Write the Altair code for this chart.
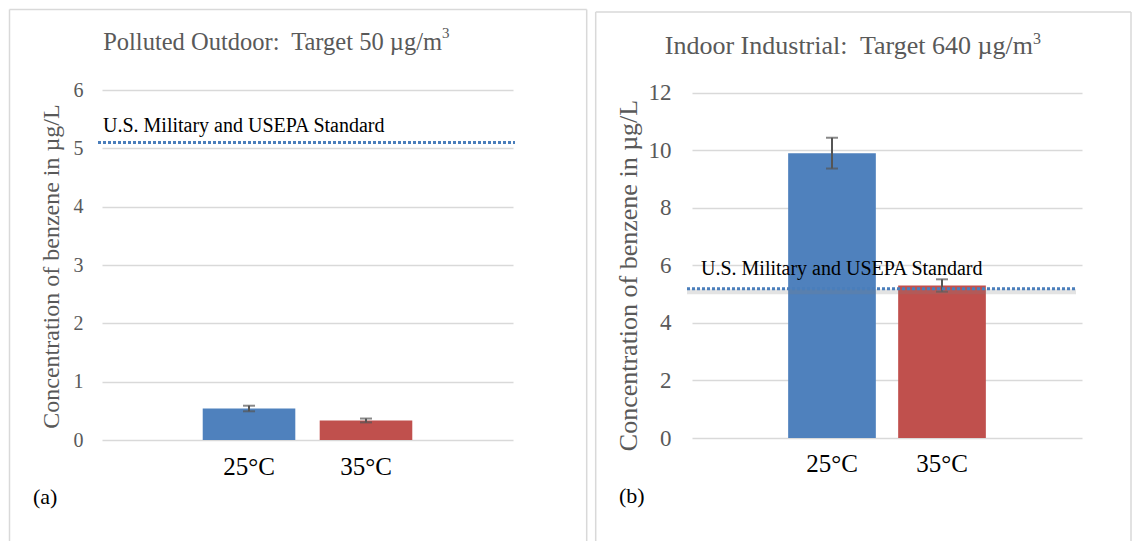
import altair as alt
import pandas as pd

# ---- data ----
categories = ["25°C", "35°C"]
a_means = [0.54, 0.335]
a_errs = [0.048, 0.033]
b_means = [9.9, 5.3]
b_errs = [0.535, 0.215]
a_standard = 5.10
b_standard = 5.19
a_ticks = [0, 1, 2, 3, 4, 5, 6]
b_ticks = [0, 2, 4, 6, 8, 10, 12]
bar_colors = ["#4F81BD", "#C0504D"]
standard_label = "U.S. Military and USEPA Standard"
y_title = "Concentration of benzene in µg/L"
a_title = "Polluted Outdoor:\u00a0 Target 50 µg/m"
b_title = "Indoor Industrial:\u00a0 Target 640 µg/m"
superscript = "3"

FONT = "Liberation Serif"
GRAY = "#595959"
GRID = "#D9D9D9"
LINE_BLUE = "#4A7EBB"


def panel(means, errs, standard, ticks, domain, width, height, p_in, p_out,
          xlab_size, xlab_pad, ylab_size, ylab_pad, ytitle_size, ytitle_x, ytitle_y,
          title, title_x, title_y, title_size, sup_y, tag, tag_x, tag_y,
          std_x1, std_x2, std_text_x, std_dy, std_size, shadow,
          border_left, border_top, border_right, border_bottom):
    df = pd.DataFrame({
        "cat": categories,
        "val": means,
        "lo": [m - e for m, e in zip(means, errs)],
        "hi": [m + e for m, e in zip(means, errs)],
    })
    one = pd.DataFrame({"k": [0]})

    x_axis = alt.Axis(title=None, labelAngle=0, labelFont=FONT, labelFontSize=xlab_size,
                      labelColor="black", labelPadding=xlab_pad, domain=False, ticks=False,
                      grid=False)
    x_enc = alt.X("cat:N", sort=categories,
                  scale=alt.Scale(domain=categories, paddingInner=p_in, paddingOuter=p_out),
                  axis=x_axis)
    y_axis = alt.Axis(values=ticks, format="d", grid=True, gridColor=GRID, gridWidth=1.5,
                      domain=False, ticks=False, labelFont=FONT, labelFontSize=ylab_size,
                      labelColor=GRAY, labelPadding=ylab_pad, title=y_title,
                      titleFont=FONT, titleFontSize=ytitle_size, titleColor=GRAY,
                      titleFontWeight="normal", titleX=ytitle_x, titleY=ytitle_y,
                      titleBaseline="middle", titleAngle=270)
    y_scale = alt.Scale(domain=domain, nice=False, zero=False)

    base = alt.Chart(df)
    bars = base.mark_bar().encode(
        x=x_enc,
        y=alt.Y("val:Q", scale=y_scale, axis=y_axis),
        y2=alt.datum(0),
        color=alt.Color("cat:N", scale=alt.Scale(domain=categories, range=bar_colors),
                        legend=None),
    )
    stems = base.mark_rule(color="#555555", strokeWidth=2).encode(
        x=x_enc, y=alt.Y("lo:Q", scale=y_scale, axis=y_axis), y2="hi:Q")
    cap_lo = base.mark_tick(color="#555555", size=12, thickness=2).encode(
        x=x_enc, y=alt.Y("lo:Q", scale=y_scale, axis=y_axis))
    cap_hi = base.mark_tick(color="#555555", size=12, thickness=2).encode(
        x=x_enc, y=alt.Y("hi:Q", scale=y_scale, axis=y_axis))

    dec = alt.Chart(one)
    layers = [bars, stems, cap_lo, cap_hi]
    if shadow:
        layers.append(dec.mark_rule(color="#7F7F7F", opacity=0.22, strokeWidth=5, yOffset=3).encode(
            y=alt.datum(standard), x=alt.value(std_x1), x2=alt.value(std_x2)))
    std_line = dec.mark_rule(color=LINE_BLUE, strokeWidth=3, strokeDash=[3, 2]).encode(
        y=alt.datum(standard), x=alt.value(std_x1), x2=alt.value(std_x2))
    std_text = dec.mark_text(align="left", baseline="alphabetic", dy=std_dy, font=FONT,
                             fontSize=std_size, color="black").encode(
        y=alt.datum(standard), x=alt.value(std_text_x), text=alt.value(standard_label))
    title_mark = dec.mark_text(align="right", baseline="alphabetic", font=FONT,
                               fontSize=title_size, color=GRAY).encode(
        x=alt.value(title_x), y=alt.value(title_y), text=alt.value(title))
    sup_mark = dec.mark_text(align="left", baseline="alphabetic", font=FONT,
                             fontSize=round(title_size * 0.62), color=GRAY).encode(
        x=alt.value(title_x), y=alt.value(sup_y), text=alt.value(superscript))
    tag_mark = dec.mark_text(align="left", baseline="alphabetic", font=FONT,
                             fontSize=22, color="black").encode(
        x=alt.value(tag_x), y=alt.value(tag_y), text=alt.value(tag))
    bl = dec.mark_rule(color=GRID, strokeWidth=1.5).encode(
        x=alt.value(border_left), y=alt.value(border_top), y2=alt.value(border_bottom))
    bt = dec.mark_rule(color=GRID, strokeWidth=1.5).encode(
        x=alt.value(border_left), x2=alt.value(border_right), y=alt.value(border_top))
    layers += [std_line, std_text, title_mark, sup_mark, tag_mark, bl, bt]
    if border_right < width + 100:
        layers.append(dec.mark_rule(color=GRID, strokeWidth=1.5).encode(
            x=alt.value(border_right), y=alt.value(border_top), y2=alt.value(border_bottom)))
    return alt.layer(*layers).properties(width=width, height=height)


panel_a = panel(a_means, a_errs, a_standard, a_ticks, [0, 6], 411, 350, 0.2085, 0.861,
                25, 14, 20, 19, 24, -51, 176,
                a_title, 340, -40, 24.5, -52, "(a)", -69, 414,
                -4, 413, 1, -11, 20, False,
                -92.5, -80.5, 484.7, 451)

panel_b = panel(b_means, b_errs, b_standard, b_ticks, [-0.0695, 12.094], 390, 350, 0.203, 0.874,
                25, 11, 23, 21, 26, -64, 185,
                b_title, 341, -36, 26, -46, "(b)", -73, 413,
                -5, 384, 9, -14, 20, True,
                -96.3, -78, 439, 451)

chart = alt.hconcat(panel_a, panel_b, spacing=179, bounds="flush").properties(
    padding=0, background="white"
).configure_view(stroke=None)

chart.save("out.html", embed_options={"renderer": "svg", "actions": False})
